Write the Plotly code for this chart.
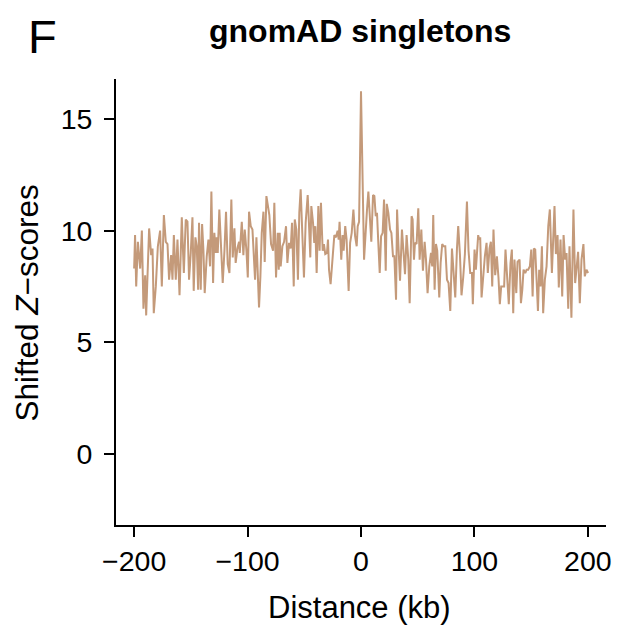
import plotly.graph_objects as go

# Distance from feature (kb) and shifted Z-scores
distance_kb = [
    -200.0, -199.2, -198.2, -196.7, -194.7, -193.2, -191.8, -190.3, -189.4, -187.9,
    -186.8, -185.0, -183.8, -182.7, -180.9, -179.1, -177.1, -175.6, -173.8, -172.1,
    -170.6, -169.2, -167.4, -166.2, -165.0, -163.3, -161.8, -160.0, -158.0, -156.2,
    -154.5, -153.0, -151.6, -150.1, -148.6, -147.5, -146.0, -144.8, -143.6, -142.8,
    -141.3, -140.1, -138.9, -137.8, -136.0, -134.5, -133.1, -131.9, -130.4, -129.3,
    -128.1, -127.2, -126.3, -124.9, -123.4, -121.9, -120.4, -119.0, -117.5, -116.0,
    -114.3, -113.1, -111.6, -110.5, -109.0, -107.5,
    -106.9, -105.1, -103.7, -102.5, -101.0, -99.8, -98.7, -97.2, -95.7, -94.6,
    -93.4, -92.2, -91.0, -89.9, -88.7, -87.5, -86.0, -84.9, -83.4, -81.9,
    -80.8, -79.3, -77.5, -76.4, -74.9, -73.4, -72.5, -71.7, -70.8, -69.3,
    -67.8, -66.1, -64.9, -63.4, -62.0, -60.8, -59.3, -58.4,
    -57.0, -55.6, -54.4, -53.2, -51.7, -50.3, -48.8, -47.0, -45.9, -44.7,
    -43.8, -42.3, -41.2, -40.3, -39.1, -37.6, -36.5, -35.3, -33.8, -32.7,
    -31.5, -30.0, -29.1, -28.2, -26.8, -25.0, -23.5, -22.1, -20.6, -19.7,
    -18.9, -17.4, -16.2, -15.3, -13.9, -12.7, -10.9,
    -9.6, -8.2, -6.7, -5.2, -3.8, -2.9, -1.7, 0.0, 2.7, 4.2,
    5.3, 6.5, 8.0, 9.1, 10.6, 11.8, 13.0, 14.1, 15.0, 16.5,
    17.7, 19.1, 20.3, 21.8, 22.7, 24.1, 25.6, 26.8, 28.2, 29.4,
    30.9, 31.8, 32.9, 34.4,
    36.1, 37.3, 38.8, 40.2, 41.7, 42.9, 44.6, 45.5, 46.7, 47.6,
    49.0, 50.5, 51.7, 53.2, 54.6, 56.1, 57.3, 58.7, 60.2, 61.7,
    62.8, 63.7, 64.9, 66.1, 67.2, 69.0, 70.2, 71.6, 72.8, 74.3,
    75.8, 77.2, 78.7, 80.2, 81.3, 83.1, 84.6, 85.7,
    87.2, 88.6, 90.1, 91.6, 93.4, 94.8, 96.3, 97.8, 98.6, 100.1,
    101.3, 102.5, 103.3, 104.2, 105.1, 106.3, 107.7, 109.2, 110.7, 111.8,
    113.3, 114.5, 115.7, 116.8, 118.3, 119.8, 121.2, 122.4, 123.6, 125.1,
    126.2, 127.4, 128.9, 130.3, 131.8, 133.0, 134.2, 135.3,
    136.9, 138.0, 139.8, 141.0, 142.2, 143.3, 144.8, 146.0, 147.4, 148.9,
    150.1, 151.3, 152.4, 153.6, 154.8, 156.0, 157.1, 158.3, 159.5, 160.6,
    162.1, 163.6, 165.1, 166.5, 168.3, 169.5, 170.6, 171.8, 173.3, 174.4,
    175.9, 177.4, 178.6, 180.0, 181.2, 182.7, 183.8,
    185.5, 187.3, 188.8, 190.2, 191.4, 192.9, 194.4, 196.1, 197.3, 198.8, 200.2,
]

shifted_z = [
    8.3, 9.8, 7.5, 9.5, 8.3, 10.0, 6.5, 8.0, 6.2, 8.1,
    10.1, 8.9, 9.2, 6.3, 7.5, 9.3, 10.0, 7.5, 10.7, 9.5,
    9.4, 7.8, 8.9, 7.8, 9.8, 7.8, 9.6, 7.1, 10.6, 8.1,
    10.5, 10.4, 7.8, 9.0, 10.6, 7.3, 9.7, 9.3, 7.35, 10.35,
    7.35, 10.3, 9.1, 7.2, 8.85, 9.6, 8.4, 11.75, 7.65, 9.9,
    9.0, 9.7, 9.0, 10.95, 9.3, 7.65, 9.1, 10.85, 8.5, 8.1,
    11.4, 8.8, 10.1, 8.55, 9.2, 9.5,
    9.0, 10.4, 8.9, 10.05, 9.1, 7.9, 10.85, 10.2, 10.05, 9.1,
    7.8, 9.7, 7.8, 6.55, 7.95, 9.9, 10.85, 8.6, 11.55, 10.95,
    10.7, 9.4, 9.1, 11.25, 7.9, 9.9, 8.25, 9.9, 8.4, 9.3,
    9.5, 10.2, 8.55, 9.45, 9.2, 10.35, 7.5, 10.5,
    10.05, 7.8, 10.8, 11.85, 9.3, 7.9, 10.35, 11.6, 10.35, 8.8,
    11.1, 10.35, 9.45, 10.2, 8.1, 11.1, 9.1, 11.25, 9.1, 9.4,
    8.95, 9.0, 9.6, 8.25, 7.6, 8.7, 9.8, 9.7, 10.0, 9.6,
    10.4, 8.7, 9.8, 9.1, 10.2, 9.6, 7.3,
    9.45, 9.9, 10.95, 9.75, 9.3, 10.2, 10.4, 16.25, 8.7, 10.2,
    10.95, 11.75, 10.2, 9.5, 11.6, 11.55, 10.65, 10.8, 9.75, 8.1,
    9.75, 9.9, 11.4, 8.2, 11.2, 10.8, 10.05, 9.9, 8.85, 8.85,
    6.9, 10.95, 9.45, 7.75,
    10.05, 9.1, 8.05, 9.8, 8.7, 6.75, 10.65, 10.5, 8.7, 9.45,
    9.4, 11.0, 8.7, 10.05, 8.2, 9.5, 8.7, 7.2, 8.4, 9.0,
    8.4, 10.7, 7.35, 9.4, 9.1, 7.0, 8.55, 9.4, 9.3, 9.3,
    7.8, 7.65, 6.4, 9.2, 8.4, 7.0, 9.2, 10.2,
    8.95, 7.1, 7.9, 8.95, 11.3, 9.1, 8.1, 8.1, 6.7, 9.15,
    8.25, 9.3, 9.8, 9.6, 9.7, 7.0, 8.1, 8.85, 9.45, 8.1,
    9.2, 9.5, 7.5, 10.05, 8.0, 8.85, 7.9, 6.7, 7.5, 7.5,
    7.5, 9.15, 7.95, 6.7, 8.55, 9.15, 6.3, 8.7,
    7.2, 8.6, 8.7, 6.75, 7.35, 8.25, 8.1, 8.25, 8.25, 8.4,
    9.15, 7.05, 9.2, 9.15, 7.8, 6.4, 8.25, 7.5, 9.3, 6.3,
    7.8, 8.4, 10.2, 10.95, 8.1, 10.05, 11.1, 8.95, 9.8, 7.45,
    9.6, 7.05, 9.8, 8.7, 9.0, 6.5, 9.3,
    6.1, 10.95, 7.65, 8.55, 9.05, 6.75, 8.7, 9.4, 7.95, 8.25, 8.1,
]

x_tick_values = [-200, -100, 0, 100, 200]
y_tick_values = [0, 5, 10, 15]

title_text = "<b>gnomAD singletons</b>"
panel_label = "F"
x_title = "Distance (kb)"
y_title = "Shifted <i>Z</i>\u2212scores"

FONT = "Liberation Sans, Arial, Helvetica, sans-serif"
LINE_COLOR = "#C49A7A"

fig = go.Figure()
fig.add_trace(go.Scatter(
    x=distance_kb, y=shifted_z, mode="lines",
    line=dict(color=LINE_COLOR, width=2),
    showlegend=False, hoverinfo="skip",
))

# page has an 8px body margin, so the figure is drawn 8px in from the corner
OFF = 8
W, H = 624 - OFF, 630 - OFF
L, T = 116 - OFF, 79 - OFF
pw, ph = 490, 446
R, B = W - L - pw, H - T - ph

def px(xp):
    return (xp - OFF - L) / pw

def py(yp):
    return (H - B - (yp - OFF)) / ph

axis_common = dict(
    showline=True, linecolor="black", linewidth=1.8,
    ticks="outside", ticklen=10, tickwidth=1.6, tickcolor="black",
    showgrid=False, zeroline=False,
    tickfont=dict(family=FONT, size=28.5, color="black"),
)

fig.update_layout(
    width=W, height=H,
    margin=dict(l=L, r=R, t=T, b=B, pad=0),
    plot_bgcolor="white", paper_bgcolor="white",
    xaxis=dict(range=[-216, 216], tickvals=x_tick_values, **axis_common),
    yaxis=dict(range=[-3.2, 16.8], tickvals=y_tick_values, ticklabelstandoff=6,
               **axis_common),
    annotations=[
        dict(text=title_text, xref="paper", yref="paper", x=px(360), y=py(31),
             xanchor="center", yanchor="middle", showarrow=False,
             font=dict(family=FONT, size=32, color="black")),
        dict(text=panel_label, xref="paper", yref="paper", x=px(26), y=py(37),
             xanchor="left", yanchor="middle", showarrow=False,
             font=dict(family=FONT, size=47, color="black")),
        dict(text=x_title, xref="paper", yref="paper", x=px(359), y=py(607),
             xanchor="center", yanchor="middle", showarrow=False,
             font=dict(family=FONT, size=31, color="black")),
        dict(text=y_title, xref="paper", yref="paper", x=px(26.5), y=py(303),
             xanchor="center", yanchor="middle", showarrow=False, textangle=-90,
             font=dict(family=FONT, size=31.5, color="black")),
    ],
)

fig.write_html("out.html")
